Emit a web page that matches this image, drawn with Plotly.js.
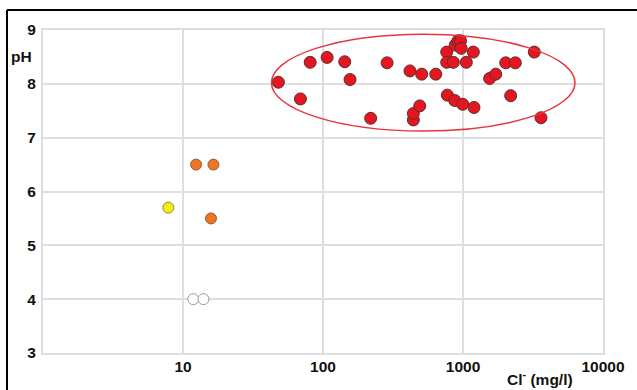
<!DOCTYPE html>
<html>
<head>
<meta charset="utf-8">
<script src="https://cdn.plot.ly/plotly-3.0.1.min.js"></script>
<style>html,body{margin:0;padding:0;background:#fff;}#chart{width:637px;height:390px;}</style>
</head>
<body>
<div id="chart"></div>
<script>
// Red group (Cl- mg/l, pH)
var redCl = [48, 69, 81, 107, 143, 156, 219, 287, 418, 442, 442, 491, 507, 639, 765, 765, 773, 853, 873, 880, 920, 960, 970, 995, 1056, 1185, 1198, 1550, 1713, 2020, 2190, 2365, 3230, 3606];
var redPH = [8.03, 7.72, 8.40, 8.49, 8.41, 8.08, 7.36, 8.39, 8.24, 7.33, 7.45, 7.59, 8.18, 8.18, 8.59, 8.40, 7.79, 8.40, 7.69, 8.72, 8.80, 8.80, 8.66, 7.62, 8.40, 8.59, 7.56, 8.10, 8.18, 8.39, 7.78, 8.39, 8.59, 7.37];
// Orange group
var orangeCl = [12.4, 16.5, 15.85];
var orangePH = [6.5, 6.5, 5.5];
// Yellow group
var yellowCl = [7.85];
var yellowPH = [5.7];
// White group
var whiteCl = [11.85, 14.0];
var whitePH = [4.0, 4.0];

var xTickVals = [10, 100, 1000, 10000];
var xTickText = ["10", "100", "1000", "10000"];
var yTickVals = [3, 4, 5, 6, 7, 8, 9];

var font = {family: "Liberation Sans, Arial, sans-serif", size: 15.5, color: "#111111", weight: "bold"};

function mk(x, y, fill, line, size) {
  return {x: x, y: y, type: "scatter", mode: "markers", hoverinfo: "skip",
    marker: {size: size, color: fill, line: {color: line, width: 1}}};
}

var data = [
  mk(whiteCl, whitePH, "#ffffff", "#9a9a9a", 11),
  mk(yellowCl, yellowPH, "#f7ee00", "#8a8a50", 11),
  mk(orangeCl, orangePH, "#f07522", "#8a6040", 11),
  mk(redCl, redPH, "#e5161f", "#5a3030", 12)
];

var layout = {
  width: 637, height: 390,
  margin: {l: 43, r: 34, t: 30, b: 37},
  paper_bgcolor: "#fff", plot_bgcolor: "#fff",
  showlegend: false,
  font: font,
  xaxis: {type: "log", range: [0, 4], tickvals: xTickVals, ticktext: xTickText,
    showgrid: true, gridcolor: "#dedede", gridwidth: 2,
    showline: true, linecolor: "#dedede", linewidth: 2, mirror: true,
    zeroline: false, ticks: "", tickfont: font, ticklabelstandoff: -2},
  yaxis: {range: [3, 9], tickvals: yTickVals,
    showgrid: true, gridcolor: "#dedede", gridwidth: 2,
    showline: true, linecolor: "#dedede", linewidth: 2, mirror: true,
    zeroline: false, ticks: "", tickfont: font, ticklabelstandoff: 2},
  shapes: [
    {type: "circle", xref: "paper", yref: "paper", x0: 0.408, x1: 0.95, y0: 0.687, y1: 0.987,
     line: {color: "#e8353d", width: 1.5}},
    {type: "line", xref: "paper", yref: "paper", x0: -0.0643, x1: -0.0643, y0: 1.0619, y1: -0.15,
     line: {color: "#000", width: 2}},
    {type: "line", xref: "paper", yref: "paper", x0: -0.0643, x1: 1.07, y0: 1.0619, y1: 1.0619,
     line: {color: "#000", width: 2}}
  ],
  annotations: [
    {text: "pH", xref: "paper", yref: "paper", x: (21.5 - 43) / 560, y: (353 - 57) / 323,
     xanchor: "center", yanchor: "middle", showarrow: false, font: font},
    {text: "Cl<sup>-</sup> (mg/l)", xref: "paper", yref: "paper", x: (540 - 43) / 560, y: (353 - 378) / 323,
     xanchor: "center", yanchor: "middle", showarrow: false, font: font}
  ]
};

Plotly.newPlot("chart", data, layout, {displayModeBar: false, staticPlot: true});
</script>
</body>
</html>
